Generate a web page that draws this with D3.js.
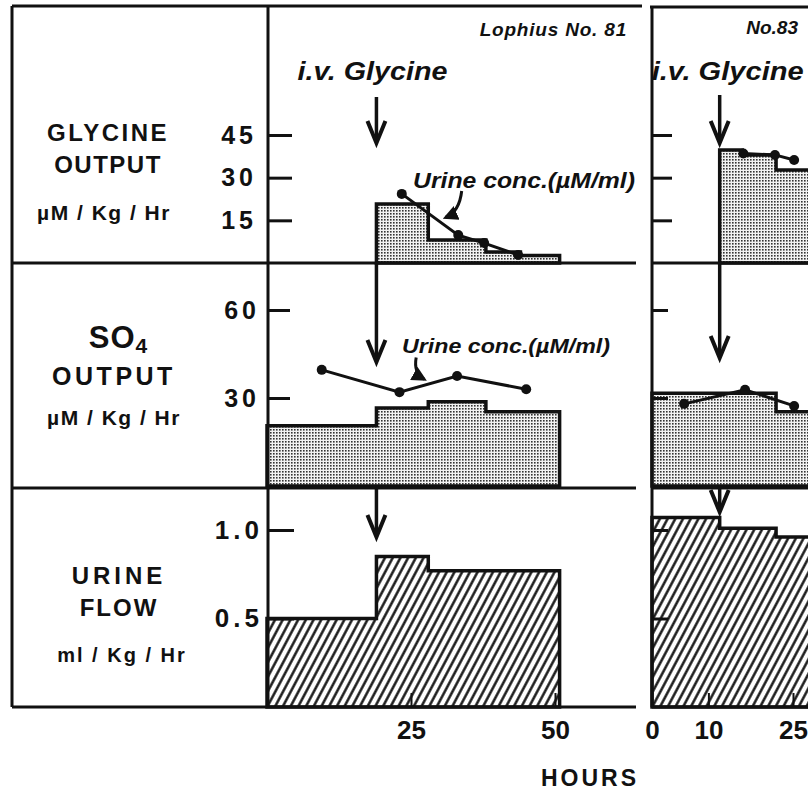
<!DOCTYPE html>
<html>
<head>
<meta charset="utf-8">
<script src="https://cdnjs.cloudflare.com/ajax/libs/d3/7.8.5/d3.min.js"></script>
<style>
  body { margin: 0; background: #fff; }
  svg { display: block; }
  text { font-family: "Liberation Sans", Arial, sans-serif; font-weight: bold; fill: #111; }
  .it { font-style: italic; }
</style>
</head>
<body>
<div id="chart"></div>
<script>
// tick values
const hourTicksL = [25, 50];
const hourTicksR = [0, 10, 25];
const glyTicks = [15, 30, 45];
const so4Ticks = [30, 60];
const flowTicks = [0.5, 1.0];

// Lophius No. 81 (left panel)
const injectL = 19;
const glyEdgesL = [19, 28, 38, 44, 50.8];
const glyValsL = [20.7, 8.1, 3.9, 2.6];
const glyConcHrsL = [23.4, 33.2, 37.7, 43.6];
const glyConcL = [24.3, 9.8, 7, 2.8];
const so4EdgesL = [0, 19, 28, 38, 50.8];
const so4ValsL = [20.5, 26.6, 28.7, 25.3];
const so4ConcHrsL = [9.5, 23, 33, 45];
const so4ConcL = [39.6, 32, 37.5, 33];
const flowEdgesL = [0, 19, 28, 50.8];
const flowValsL = [0.5, 0.85, 0.77];

// No. 83 (right panel)
const injectR = 12;
const glyEdgesR = [12, 16, 22, 30];
const glyValsR = [39.7, 38, 32.7];
const glyConcHrsR = [16.2, 21.8, 25.2];
const glyConcR = [38.5, 38, 36.2];
const so4EdgesR = [0, 22, 30];
const so4ValsR = [31.6, 25.3];
const so4ConcHrsR = [5.7, 16.5, 25.2];
const so4ConcR = [28, 32.8, 27.3];
const flowEdgesR = [0, 12, 22, 30];
const flowValsR = [1.07, 1.01, 0.96];

const width = 808, height = 794;

const svg = d3.select("#chart").append("svg")
  .attr("width", width)
  .attr("height", height);

// fills: stipple and hatching
const defs = svg.append("defs");
const dots = defs.append("pattern").attr("id", "dots")
  .attr("patternUnits", "userSpaceOnUse").attr("width", 3).attr("height", 3);
dots.append("rect").attr("width", 3).attr("height", 3).attr("fill", "#f2f2f2");
dots.append("rect").attr("width", 1.6).attr("height", 1.6).attr("fill", "#333");

const hatch = defs.append("pattern").attr("id", "hatch")
  .attr("patternUnits", "userSpaceOnUse").attr("width", 6.8).attr("height", 10)
  .attr("patternTransform", "rotate(28)");
hatch.append("rect").attr("width", 6.8).attr("height", 10).attr("fill", "#fff");
hatch.append("line").attr("x1", 3.4).attr("x2", 3.4).attr("y1", 0).attr("y2", 10)
  .attr("stroke", "#111").attr("stroke-width", 2.4);

defs.append("marker").attr("id", "tip")
  .attr("viewBox", "0 0 10 10").attr("refX", 8).attr("refY", 5)
  .attr("markerWidth", 5).attr("markerHeight", 5).attr("orient", "auto")
  .append("path").attr("d", "M0,0 L10,5 L0,10 z").attr("fill", "#111");

// scales
const xL = d3.scaleLinear().domain([0, 50]).range([267, 555]);
const xR = d3.scaleLinear().domain([0, 25]).range([652, 793]);
const yGly = d3.scaleLinear().domain([0, 45]).range([263, 135]);
const ySO4 = d3.scaleLinear().domain([0, 60]).range([486, 310]);
const yFlow = d3.scaleLinear().domain([0, 1]).range([707, 530]);

function stepArea(edges, vals, x, y) {
  const pts = edges.map((e, i) => [e, vals[Math.min(i, vals.length - 1)]]);
  return d3.area().curve(d3.curveStepAfter)
    .x(d => x(d[0])).y0(y(0)).y1(d => y(d[1]))(pts);
}

function drawBars(edges, vals, x, y, fill) {
  svg.append("path")
    .attr("d", stepArea(edges, vals, x, y))
    .attr("fill", fill)
    .attr("stroke", "#111")
    .attr("stroke-width", 3.5)
    .attr("stroke-linejoin", "miter");
}

function drawConc(hrs, vals, x, y) {
  const pts = hrs.map((h, i) => [x(h), y(vals[i])]);
  svg.append("path")
    .attr("d", d3.line()(pts))
    .attr("fill", "none")
    .attr("stroke", "#111")
    .attr("stroke-width", 3);
  svg.selectAll(null).data(pts).enter().append("circle")
    .attr("cx", d => d[0]).attr("cy", d => d[1]).attr("r", 5)
    .attr("fill", "#111");
}

function drawArrow(x, y1, y2) {
  svg.append("line")
    .attr("x1", x).attr("x2", x).attr("y1", y1).attr("y2", y2 - 2)
    .attr("stroke", "#111").attr("stroke-width", 3.5);
  svg.append("path")
    .attr("d", `M${x - 9},${y2 - 22} L${x},${y2} L${x + 9},${y2 - 22}`)
    .attr("fill", "none").attr("stroke", "#111").attr("stroke-width", 4)
    .attr("stroke-linejoin", "miter");
}

// bars
drawBars(glyEdgesL, glyValsL, xL, yGly, "url(#dots)");
drawBars(so4EdgesL, so4ValsL, xL, ySO4, "url(#dots)");
drawBars(flowEdgesL, flowValsL, xL, yFlow, "url(#hatch)");
drawBars(glyEdgesR, glyValsR, xR, yGly, "url(#dots)");
drawBars(so4EdgesR, so4ValsR, xR, ySO4, "url(#dots)");
drawBars(flowEdgesR, flowValsR, xR, yFlow, "url(#hatch)");

// urine concentration lines
drawConc(glyConcHrsL, glyConcL, xL, yGly);
drawConc(so4ConcHrsL, so4ConcL, xL, ySO4);
drawConc(glyConcHrsR, glyConcR, xR, yGly);
drawConc(so4ConcHrsR, so4ConcR, xR, ySO4);

// frame
const frame = svg.append("g").attr("stroke", "#111").attr("stroke-width", 3);
[[12, 6, 642, 6], [650, 7, 900, 7],
 [12, 263, 636, 263], [652, 263, 900, 263],
 [12, 488, 636, 488], [652, 488, 900, 488],
 [12, 707, 636, 707], [652, 707, 900, 707],
 [12, 6, 12, 707], [268, 6, 268, 707], [652, 7, 652, 707]]
  .forEach(l => frame.append("line")
    .attr("x1", l[0]).attr("y1", l[1]).attr("x2", l[2]).attr("y2", l[3]));

// y axes
function yAxis(x0, y, ticks, len, pad, size, labels) {
  const ax = d3.axisLeft(y).tickValues(ticks)
    .tickSizeInner(-len).tickSizeOuter(0).tickPadding(pad)
    .tickFormat(labels ? (d => d.toFixed(y === yFlow ? 1 : 0)) : "");
  const g = svg.append("g").attr("transform", `translate(${x0},0)`).call(ax);
  g.select(".domain").remove();
  g.selectAll("line").attr("stroke", "#111").attr("stroke-width", 3);
  g.selectAll("text").attr("font-size", size).attr("letter-spacing", 4)
    .attr("fill", "#111").attr("font-family", "Liberation Sans, Arial, sans-serif")
    .attr("font-weight", "bold");
}
yAxis(268, yGly, glyTicks, 24, 11, 25, true);
yAxis(268, ySO4, so4Ticks, 22, 8, 25, true);
yAxis(268, yFlow, flowTicks, 26, 5, 26, true);
yAxis(652, yGly, glyTicks, 20, 0, 0, false);
yAxis(652, ySO4, so4Ticks, 16, 0, 0, false);
yAxis(652, yFlow, flowTicks, 16, 0, 0, false);

// x axes
function xAxis(x, ticks) {
  const g = svg.append("g").attr("transform", "translate(0,707)")
    .call(d3.axisBottom(x).tickValues(ticks)
      .tickSizeInner(-14).tickSizeOuter(0).tickPadding(14));
  g.select(".domain").remove();
  g.selectAll("line").attr("stroke", "#111").attr("stroke-width", 2);
  g.selectAll("text").attr("font-size", 26).attr("fill", "#111")
    .attr("font-family", "Liberation Sans, Arial, sans-serif").attr("font-weight", "bold");
}
xAxis(xL, hourTicksL);
xAxis(xR, hourTicksR);

svg.append("text").attr("x", 590).attr("y", 786).attr("text-anchor", "middle")
  .attr("font-size", 23).attr("letter-spacing", 3).text("HOURS");

// injection arrows
const aL = xL(injectL), aR = xR(injectR);
drawArrow(aL, 97, 143);
drawArrow(aL, 263, 362);
drawArrow(aL, 488, 537);
drawArrow(aR, 95, 143);
drawArrow(aR, 263, 358);
drawArrow(aR, 488, 512);

// row labels
const lab = svg.append("g").attr("text-anchor", "middle");
lab.append("text").attr("x", 108).attr("y", 141).attr("font-size", 24).attr("letter-spacing", 2.5).text("GLYCINE");
lab.append("text").attr("x", 108).attr("y", 173).attr("font-size", 24).attr("letter-spacing", 1.5).text("OUTPUT");
lab.append("text").attr("x", 104).attr("y", 220).attr("font-size", 21).attr("letter-spacing", 1.5).text("µM / Kg / Hr");

const so = lab.append("text").attr("x", 118).attr("y", 348).attr("font-size", 31);
so.append("tspan").attr("letter-spacing", 1).text("SO");
so.append("tspan").attr("dy", 5).attr("font-size", 21).text("4");
lab.append("text").attr("x", 114).attr("y", 385).attr("font-size", 25).attr("letter-spacing", 3.5).text("OUTPUT");
lab.append("text").attr("x", 114).attr("y", 425).attr("font-size", 21).attr("letter-spacing", 1.5).text("µM / Kg / Hr");

lab.append("text").attr("x", 119).attr("y", 584).attr("font-size", 24).attr("letter-spacing", 4).text("URINE");
lab.append("text").attr("x", 119).attr("y", 616).attr("font-size", 24).attr("letter-spacing", 2).text("FLOW");
lab.append("text").attr("x", 122).attr("y", 662).attr("font-size", 20).attr("letter-spacing", 2).text("ml / Kg / Hr");

// italic annotations
svg.append("text").attr("class", "it").attr("x", 627).attr("y", 36)
  .attr("text-anchor", "end").attr("font-size", 19).attr("letter-spacing", 0.8).text("Lophius No. 81");
svg.append("text").attr("class", "it").attr("x", 798).attr("y", 34)
  .attr("text-anchor", "end").attr("font-size", 19).text("No.83");
svg.append("text").attr("class", "it").attr("x", aL - 79).attr("y", 80)
  .attr("font-size", 25).attr("textLength", 150).attr("lengthAdjust", "spacingAndGlyphs")
  .text("i.v. Glycine");
svg.append("text").attr("class", "it").attr("x", aR - 68).attr("y", 80)
  .attr("font-size", 25).attr("textLength", 152).attr("lengthAdjust", "spacingAndGlyphs")
  .text("i.v. Glycine");
svg.append("text").attr("class", "it").attr("x", 413).attr("y", 188)
  .attr("font-size", 22).attr("textLength", 222).attr("lengthAdjust", "spacingAndGlyphs")
  .text("Urine conc.(µM/ml)");
svg.append("text").attr("class", "it").attr("x", 402).attr("y", 353)
  .attr("font-size", 21).attr("textLength", 208).attr("lengthAdjust", "spacingAndGlyphs")
  .text("Urine conc.(µM/ml)");

// curved pointers from the labels to the lines
function pointer(d) {
  svg.append("path").attr("d", d).attr("fill", "none")
    .attr("stroke", "#111").attr("stroke-width", 3)
    .attr("marker-end", "url(#tip)");
}
pointer(`M${xL(33.8)},${yGly(25.3)} Q${xL(33.4)},${yGly(18)} ${xL(31)},${yGly(16)}`);
pointer(`M${xL(25.9)},${ySO4(43.8)} Q${xL(25.4)},${ySO4(38.5)} ${xL(27.3)},${ySO4(36.4)}`);
</script>
</body>
</html>
